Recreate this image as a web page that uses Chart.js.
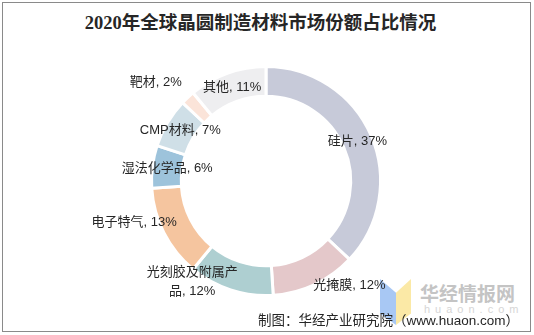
<!DOCTYPE html>
<html>
<head>
<meta charset="utf-8">
<script src="https://cdn.jsdelivr.net/npm/chart.js@4/dist/chart.umd.min.js"></script>
<style>
    html, body { margin: 0; padding: 0; background: #fff; }
    body { width: 534px; height: 335px; position: relative; overflow: hidden;
           font-family: "Liberation Sans", "Noto Sans CJK SC", sans-serif; }
    .frame { position: absolute; left: 2px; top: 2px; width: 527px; height: 328px;
             border: 1.5px solid #8a8a8a; }
    .title { position: absolute; left: 0; width: 521px; top: 8px; text-align: center;
             font: bold 18.5px "Liberation Serif", "Noto Sans CJK SC", serif; color: #262626; }
    #chart-box { position: absolute; left: 0; top: 0; width: 534px; height: 335px; }
    .source { position: absolute; right: 15px; top: 309px; font-size: 13.5px; color: #262626; }
    .logo { position: absolute; left: 380px; top: 277px; width: 140px; height: 50px; }
    .logo .b { position: absolute; left: 0; top: 2px; width: 16px; height: 46px; background: #a8c8f4;
               clip-path: polygon(0 0, 100% 30%, 100% 100%, 0 75%); }
    .logo .y { position: absolute; left: 16px; top: 2px; width: 15px; height: 46px; background: #fbe9a6;
               clip-path: polygon(0 30%, 100% 0, 100% 75%, 0 100%); }
    .logo .cn { position: absolute; left: 40px; top: 2px; font: bold 19px "Noto Sans CJK SC", sans-serif;
                color: #c4c4c4; }
    .logo .en { position: absolute; left: 44px; top: 26px; font-size: 11px; color: #d6d6d6; letter-spacing: 5px; }
</style>
</head>
<body>
<div class="frame"></div>
<div class="title">2020年全球晶圆制造材料市场份额占比情况</div>
<div class="logo"><div class="b"></div><div class="y"></div><div class="cn">华经情报网</div><div class="en">huaon.com</div></div>
<div id="chart-box"><canvas id="shareChart"></canvas></div>
<div class="source">制图：华经产业研究院（www.huaon.com）</div>
<script>
const categories = ['硅片', '光掩膜', '光刻胶及附属产品', '电子特气', '湿法化学品', 'CMP材料', '靶材', '其他'];
const shares = [37, 12, 12, 13, 6, 7, 2, 11];
const sliceColors = ['#c7cad9', '#e4c8ca', '#aecfd1', '#f5c59f', '#9dc3db', '#cfdfe7', '#fbe4d9', '#eeeef0'];

// labels that sit off the ring get nudged (px, from the ring centre line)
const labelNudge = { '光掩膜': [41, 14], '光刻胶及附属产品': [-43, 6], '电子特气': [-43, -4], '靶材': [-42, -26] };

const sliceLabels = {
    id: 'sliceLabels',
    afterDatasetsDraw(chart) {
        const ctx = chart.ctx;
        const meta = chart.getDatasetMeta(0);
        ctx.save();
        ctx.font = '13px "Liberation Sans", "Noto Sans CJK SC", sans-serif';
        ctx.fillStyle = '#262626';
        ctx.textAlign = 'center';
        ctx.textBaseline = 'middle';
        meta.data.forEach((arc, i) => {
            const mid = (arc.startAngle + arc.endAngle) / 2;
            const r = (arc.innerRadius + arc.outerRadius) / 2;
            const nudge = labelNudge[categories[i]] || [0, 0];
            const x = arc.x + Math.cos(mid) * r + nudge[0];
            const y = arc.y + Math.sin(mid) * r + nudge[1];
            const text = `${categories[i]}, ${shares[i]}%`;
            // wrap long labels character by character
            const lines = [];
            let line = '';
            for (const ch of text) {
                if (line && ctx.measureText(line + ch).width > 96) {
                    lines.push(line);
                    line = ch;
                } else {
                    line += ch;
                }
            }
            lines.push(line);
            const lh = 19;
            lines.forEach((l, k) => {
                ctx.fillText(l, x, y + (k - (lines.length - 1) / 2) * lh);
            });
        });
        ctx.restore();
    }
};

new Chart(document.getElementById('shareChart'), {
    type: 'doughnut',
    data: {
        labels: categories,
        datasets: [{
            data: shares,
            backgroundColor: sliceColors,
            borderColor: '#ffffff',
            borderWidth: 3
        }]
    },
    options: {
        responsive: true,
        maintainAspectRatio: false,
        animation: false,
        cutout: '74%',
        layout: { padding: { left: 150, top: 65, right: 152, bottom: 38 } },
        plugins: {
            legend: { display: false },
            tooltip: { enabled: false }
        }
    },
    plugins: [sliceLabels]
});
</script>
</body>
</html>
